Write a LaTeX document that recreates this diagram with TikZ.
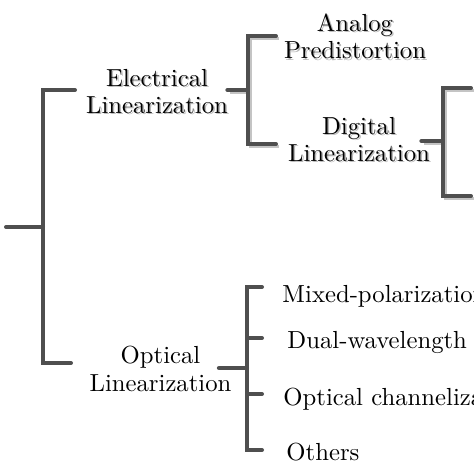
\documentclass[tikz,border=0pt]{standalone}
\usepackage{xcolor}
\definecolor{stem}{HTML}{4F4F4F}
\definecolor{ghost}{HTML}{C4C4C4}
\usepackage{tikz}
\usetikzlibrary{positioning,calc}
\tikzset{
    branch/.style={draw=stem, line width=4pt, line cap=round, line join=miter},
    drop/.style={preaction={draw=ghost, line width=3.5pt, transform canvas={shift={(2.5pt,-2.5pt)}}}},
    term/.style={inner sep=0pt, align=center, scale=2.47, font=\fontsize{10}{11}\selectfont},
    leaf/.style={inner sep=0pt, anchor=base west, scale=2.47, font=\fontsize{10}{11}\selectfont}
}
\newcommand{\shtxt}[1]{\leavevmode\rlap{\kern0.6pt\raisebox{-0.6pt}{\textcolor{black!28}{#1}}}#1}

\begin{document}
\begin{tikzpicture}[x=1pt, y=-1pt]
  \useasboundingbox (0,0) rectangle (474,474);
  \clip (0,0) rectangle (474,474);

  % Category nodes
  \node[term] (elec) at (157,92) {\shtxt{Electrical}\\\shtxt{Linearization}};
  \node[term] (apd) at (355,37) {\shtxt{Analog}\\\shtxt{Predistortion}};
  \node[term] (dig) at (359,140) {\shtxt{Digital}\\\shtxt{Linearization}};
  \node[term] (opt) at (160.5,369) {Optical\\Linearization};

  % Optical leaves
  \node[leaf] (mix) at (282,302) {Mixed-polarization};
  \node[leaf] (dual) at (287,348) {Dual-wavelength};
  \node[leaf] (chan) at (283,405) {Optical channelization};
  \node[leaf] (oth) at (286,460) {Others};

  % Junction points of the brackets
  \coordinate (root) at (6,227);
  \coordinate (j0) at (43,227);
  \coordinate (j0top) at (75,90);
  \coordinate (j0bot) at (71,363);
  \coordinate (j1) at (248,90);
  \coordinate (j1top) at (276,36);
  \coordinate (j1bot) at (276,144);
  \coordinate (j2) at (443,141);
  \coordinate (j2top) at (471,88);
  \coordinate (j2bot) at (471,196);
  \coordinate (j3) at (247,368);
  \coordinate (mixj) at (262,287);
  \coordinate (dualj) at (262,338);
  \coordinate (chanj) at (262,394);
  \coordinate (othj) at (262,450);

  % Root bracket
  \draw[branch] (root) -- (j0);
  \draw[branch] (j0top) -| (j0) |- (j0bot);

  % Electrical bracket
  \draw[branch, drop] ([xshift=-1pt]elec.east |- j1) -- (j1);
  \draw[branch, drop] (j1top) -| (j1) |- (j1bot);

  % Digital bracket
  \draw[branch, drop] ([xshift=-9pt]dig.east |- j2) -- (j2);
  \draw[branch, drop] (j2top) -| (j2) |- (j2bot);

  % Optical bracket
  \draw[branch] ([xshift=-13pt]opt.east |- j3) -- (j3);
  \draw[branch] (mixj) -| (j3) |- (othj);
  \draw[branch] (j3 |- dualj) -- (dualj);
  \draw[branch] (j3 |- chanj) -- (chanj);
\end{tikzpicture}
\end{document}
